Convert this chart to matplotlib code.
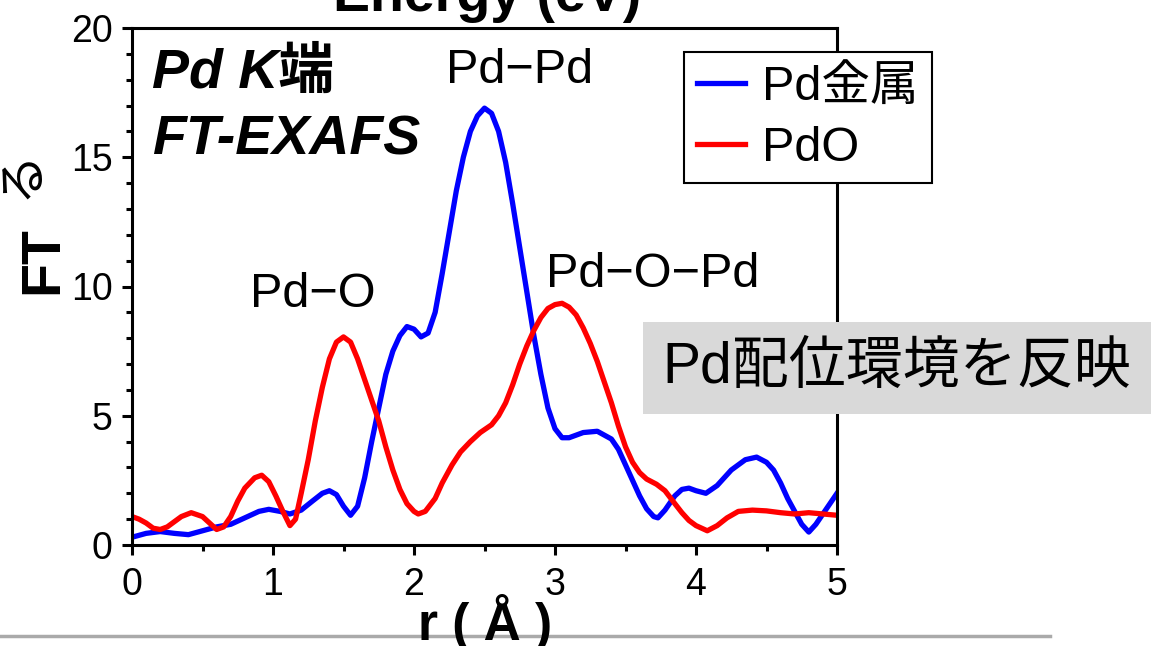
import matplotlib
matplotlib.use('Agg')
import matplotlib.pyplot as plt
from matplotlib.ticker import MultipleLocator

plt.rcParams['font.family'] = ['Liberation Sans', 'Noto Sans CJK JP']
plt.rcParams['axes.unicode_minus'] = True

# FT-EXAFS magnitude
r_pd = [0.0, 0.1, 0.2, 0.3, 0.4, 0.5, 0.6, 0.7, 0.8, 0.9, 0.97, 1.05, 1.12,
        1.2, 1.28, 1.35, 1.4, 1.45, 1.5, 1.55, 1.6, 1.65, 1.7, 1.75, 1.8,
        1.85, 1.9, 1.95, 2.0, 2.05, 2.1, 2.15, 2.2, 2.25, 2.3, 2.35, 2.4,
        2.45, 2.5, 2.55, 2.6, 2.65, 2.7, 2.75, 2.8, 2.85, 2.9, 2.95, 3.0,
        3.05, 3.1, 3.2, 3.3, 3.4, 3.45, 3.5, 3.55, 3.6, 3.65, 3.7, 3.73,
        3.78, 3.85, 3.9, 3.95, 4.0, 4.07, 4.15, 4.25, 4.35, 4.43, 4.5, 4.55,
        4.6, 4.65, 4.7, 4.75, 4.8, 4.85, 4.9, 4.95, 5.0]
ft_pd = [0.3, 0.45, 0.52, 0.45, 0.4, 0.55, 0.7, 0.8, 1.05, 1.3, 1.38, 1.3, 1.2,
         1.35, 1.7, 2.0, 2.1, 1.95, 1.5, 1.15, 1.5, 2.6, 4.0, 5.3, 6.6,
         7.5, 8.1, 8.45, 8.35, 8.05, 8.2, 9.0, 10.5, 12.1, 13.7, 15.0, 16.0,
         16.6, 16.9, 16.7, 16.0, 14.8, 13.2, 11.5, 9.8, 8.1, 6.6, 5.3, 4.5,
         4.15, 4.15, 4.35, 4.4, 4.1, 3.7, 3.1, 2.5, 1.9, 1.4, 1.1, 1.05,
         1.35, 1.9, 2.15, 2.2, 2.1, 2.0, 2.3, 2.9, 3.3, 3.4, 3.2, 2.9,
         2.4, 1.8, 1.3, 0.8, 0.5, 0.8, 1.2, 1.6, 2.0]

r_pdo = [0.0, 0.05, 0.1, 0.15, 0.2, 0.25, 0.3, 0.35, 0.42, 0.5, 0.55, 0.6,
         0.65, 0.7, 0.75, 0.8, 0.87, 0.92, 0.97, 1.02, 1.07, 1.12, 1.16, 1.2,
         1.25, 1.3, 1.35, 1.4, 1.45, 1.5, 1.55, 1.6, 1.65, 1.7, 1.75, 1.8,
         1.85, 1.9, 1.95, 2.0, 2.03, 2.08, 2.15, 2.2, 2.27, 2.33, 2.4, 2.47,
         2.55, 2.6, 2.65, 2.7, 2.75, 2.8, 2.85, 2.9, 2.95, 3.0, 3.05, 3.1,
         3.15, 3.2, 3.25, 3.3, 3.35, 3.4, 3.45, 3.5, 3.55, 3.6, 3.65, 3.72,
         3.78, 3.85, 3.9, 3.95, 4.0, 4.08, 4.15, 4.22, 4.3, 4.4, 4.5, 4.6,
         4.7, 4.8, 4.9, 5.0]
ft_pdo = [1.1, 1.0, 0.85, 0.65, 0.6, 0.7, 0.9, 1.1, 1.25, 1.1, 0.85, 0.6,
          0.7, 1.1, 1.7, 2.2, 2.6, 2.7, 2.45, 1.9, 1.3, 0.75, 1.0, 2.0,
          3.3, 4.8, 6.1, 7.2, 7.85, 8.05, 7.85, 7.2, 6.4, 5.6, 4.8, 3.8,
          2.9, 2.15, 1.6, 1.3, 1.2, 1.3, 1.8, 2.4, 3.1, 3.6, 4.0, 4.35,
          4.65, 5.0, 5.5, 6.2, 7.0, 7.7, 8.3, 8.8, 9.15, 9.3, 9.35, 9.2,
          8.9, 8.4, 7.8, 7.1, 6.3, 5.5, 4.6, 3.8, 3.2, 2.8, 2.55, 2.35,
          2.1, 1.6, 1.25, 0.95, 0.75, 0.55, 0.75, 1.05, 1.3, 1.35, 1.32, 1.25,
          1.2, 1.25, 1.2, 1.15]

series_labels = ['Pd金属', 'PdO']
peak_labels = ['Pd\u2212O', 'Pd\u2212Pd', 'Pd\u2212O\u2212Pd']
peak_pos = [(1.28, 9.2), (2.75, 17.87), (3.69, 9.98)]

W, H = 1151, 646
fig = plt.figure(figsize=(W / 100, H / 100), dpi=100)
ax = fig.add_axes([132 / W, 1 - 545 / H, (837 - 132) / W, (545 - 28) / H])

ax.plot(r_pd, ft_pd, color='#0000ff', lw=3.8, label=series_labels[0],
        solid_joinstyle='round')
ax.plot(r_pdo, ft_pdo, color='#ff0000', lw=3.8, label=series_labels[1],
        solid_joinstyle='round')

ax.set_xlim(0, 5)
ax.set_ylim(0, 20)
ax.xaxis.set_major_locator(MultipleLocator(1))
ax.xaxis.set_minor_locator(MultipleLocator(0.5))
ax.yaxis.set_major_locator(MultipleLocator(5))
ax.yaxis.set_minor_locator(MultipleLocator(1))
for s in ax.spines.values():
    s.set_linewidth(2.2)
ax.tick_params(which='major', direction='out', length=7, width=2.2,
               labelsize=27, pad=7)
ax.tick_params(which='minor', direction='out', length=4, width=2.2)
ax.tick_params(axis='x', which='major', pad=9)

for txt, (x, y) in zip(peak_labels, peak_pos):
    ax.text(x, y, txt, fontsize=35, ha='center', va='baseline')

ax.text(0.14, 17.68, 'Pd K端', fontsize=40, fontweight='bold',
        fontstyle='italic', va='baseline')
ax.text(0.14, 15.09, 'FT-EXAFS', fontsize=40, fontweight='bold',
        fontstyle='italic', va='baseline')

leg = fig.legend(loc='upper left', bbox_to_anchor=(684 / W, 1 - 52 / H),
                 fontsize=35, frameon=True, fancybox=False, borderaxespad=0,
                 handlelength=1.0, handletextpad=0.35, labelspacing=0.33,
                 borderpad=0.26)
leg.get_frame().set_edgecolor('black')
leg.get_frame().set_linewidth(1.5)
leg.get_frame().set_alpha(1)

fig.text(897 / W, 1 - 368 / H, 'Pd配位環境を反映', fontsize=41,
         ha='center', va='center',
         bbox=dict(facecolor='#d9d9d9', edgecolor='none', pad=14))

# axis labels and clipped upper-panel label
fig.text(43 / W, 1 - 260 / H, 'FT', fontsize=40, fontweight='bold',
         rotation=90, ha='center', va='center')
fig.text(22 / W, 1 - 174 / H, 'る', fontsize=36, rotation=90,
         ha='center', va='center')
fig.text(485 / W, 1 - 640 / H, 'r ( Å )', fontsize=37, fontweight='bold',
         ha='center', va='baseline')
fig.text(487 / W, 1 - 11 / H, 'Energy (eV)', fontsize=40, fontweight='bold',
         ha='center', va='baseline')

fig.add_artist(plt.Line2D([0, 1050 / W], [1 - 636 / H] * 2, color='#aaaaaa',
                          lw=2.5, transform=fig.transFigure))

fig.savefig('out.png', dpi=100)
